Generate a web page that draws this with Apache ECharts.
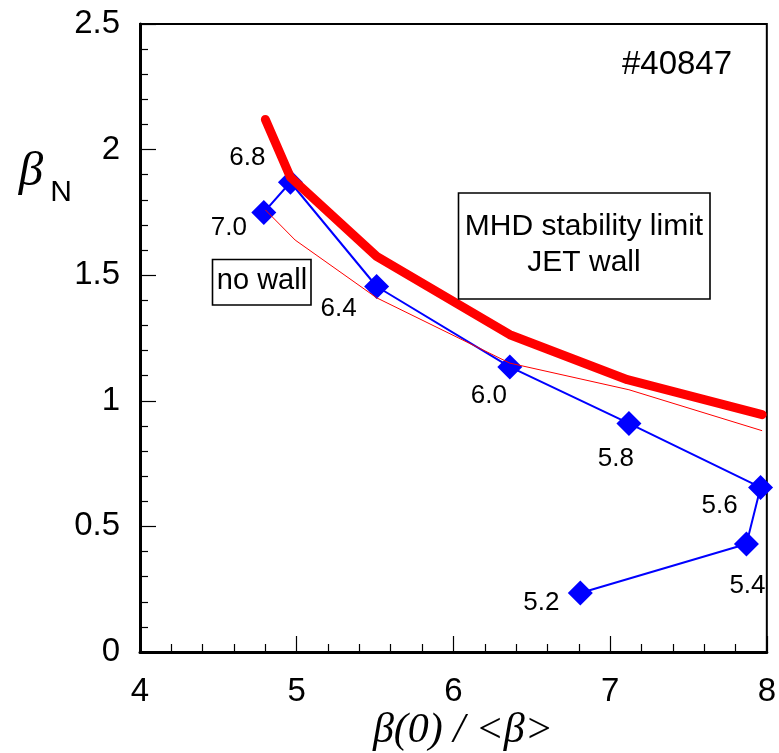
<!DOCTYPE html>
<html>
<head>
<meta charset="utf-8">
<script src="https://cdn.jsdelivr.net/npm/echarts@6/dist/echarts.min.js"></script>
<style>
  html, body { margin: 0; padding: 0; background: #fff; }
  #chart { width: 779px; height: 753px; }
</style>
</head>
<body>
<div id="chart"></div>
<script>
// Peaking-factor scan of shot #40847: beta_N against beta(0)/<beta>
const profileLabels = ['7.0', '6.8', '6.4', '6.0', '5.8', '5.6', '5.4', '5.2'];
const peakingX = [4.79, 4.96, 5.51, 6.36, 7.12, 7.96, 7.87, 6.81];
const betaN = [1.75, 1.87, 1.455, 1.135, 0.91, 0.655, 0.43, 0.235];

// MHD stability limit with the JET wall (thick curve)
const wallX = [4.80, 4.96, 5.51, 6.36, 7.11, 7.97];
const wallY = [2.12, 1.89, 1.575, 1.263, 1.084, 0.945];

// MHD stability limit without a wall (thin curve)
const noWallX = [4.80, 4.99, 5.51, 6.36, 7.12, 7.97];
const noWallY = [1.76, 1.64, 1.41, 1.15, 1.044, 0.881];

const xTicks = { min: 4, max: 8, step: 1 };
const yTicks = { min: 0, max: 2.5, step: 0.5 };

// where each profile label sits relative to its marker (px)
const labelOffsets = [[-35, 15], [-43, -24], [-38, 22], [-21, 29], [-13, 35], [-41, 18], [1, 42], [-39, 10]];

const SANS = '"Liberation Sans", Arial, sans-serif';
const SERIF = '"Liberation Serif", "Times New Roman", serif';

const zip = (xs, ys) => xs.map((x, i) => [x, ys[i]]);

const scanData = peakingX.map((x, i) => ({
  value: [x, betaN[i]],
  label: { offset: labelOffsets[i] }
}));

function axisCommon(extra) {
  return Object.assign({
    type: 'value',
    axisLine: { show: true, onZero: false, lineStyle: { color: '#000', width: 3 } },
    axisTick: { show: true, inside: true, length: 16, lineStyle: { color: '#000', width: 1.2 } },
    minorTick: { show: true, splitNumber: 5, length: 8, lineStyle: { color: '#000', width: 1.2 } },
    splitLine: { show: false },
    minorSplitLine: { show: false }
  }, extra);
}

const chart = echarts.init(document.getElementById('chart'), null, { renderer: 'canvas' });

chart.setOption({
  animation: false,
  backgroundColor: '#fff',
  grid: { left: 140, right: 7, top: 24, bottom: 101, show: true, borderColor: '#000', borderWidth: 2 },
  xAxis: axisCommon({
    min: xTicks.min, max: xTicks.max, interval: xTicks.step,
    axisLabel: { color: '#000', fontSize: 33, fontFamily: SANS, margin: 23 }
  }),
  yAxis: axisCommon({
    min: yTicks.min, max: yTicks.max, interval: yTicks.step,
    axisLabel: { color: '#000', fontSize: 33, fontFamily: SANS, margin: 20 }
  }),
  series: [
    {
      name: 'scan',
      type: 'line',
      data: scanData,
      symbol: 'diamond',
      symbolSize: 25,
      itemStyle: { color: '#0000ff' },
      lineStyle: { color: '#0000ff', width: 2 },
      label: {
        show: true,
        position: 'inside',
        color: '#000',
        fontSize: 26,
        fontFamily: SANS,
        formatter: p => profileLabels[p.dataIndex]
      },
      z: 2
    },
    {
      name: 'no wall',
      type: 'line',
      data: zip(noWallX, noWallY),
      symbol: 'none',
      lineStyle: { color: '#ff0000', width: 1 },
      z: 3
    },
    {
      name: 'JET wall',
      type: 'line',
      data: zip(wallX, wallY),
      symbol: 'none',
      lineStyle: { color: '#ff0000', width: 9, cap: 'round', join: 'round' },
      z: 4
    }
  ],
  graphic: [
    {
      type: 'text', x: 677, y: 65,
      style: { text: '#40847', font: '33px ' + SANS, fill: '#000', align: 'center', verticalAlign: 'middle' }
    },
    {
      type: 'rect', shape: { x: 458.5, y: 193, width: 251.5, height: 106 },
      style: { fill: '#fff', stroke: '#000', lineWidth: 1.6 }, z: 10
    },
    {
      type: 'text', x: 584, y: 227, z: 11,
      style: { text: 'MHD stability limit', font: '30px ' + SANS, fill: '#000', align: 'center', verticalAlign: 'middle' }
    },
    {
      type: 'text', x: 584, y: 263, z: 11,
      style: { text: 'JET wall', font: '30px ' + SANS, fill: '#000', align: 'center', verticalAlign: 'middle' }
    },
    {
      type: 'rect', shape: { x: 212.5, y: 259.5, width: 98.5, height: 45.5 },
      style: { fill: '#fff', stroke: '#000', lineWidth: 1.6 }, z: 10
    },
    {
      type: 'text', x: 262, y: 281, z: 11,
      style: { text: 'no wall', font: '29px ' + SANS, fill: '#000', align: 'center', verticalAlign: 'middle' }
    },
    // y-axis title: beta with subscript N
    {
      type: 'text', x: 31, y: 172,
      style: { text: 'β', font: 'italic 49px ' + SERIF, fill: '#000', align: 'center', verticalAlign: 'middle' }
    },
    {
      type: 'text', x: 61, y: 193,
      style: { text: 'N', font: '30px ' + SANS, fill: '#000', align: 'center', verticalAlign: 'middle' }
    },
    // x-axis title
    {
      type: 'text', x: 463, y: 731,
      style: { text: 'β(0) / <β>', font: 'italic 42px ' + SERIF, fill: '#000', align: 'center', verticalAlign: 'middle' }
    }
  ]
});
</script>
</body>
</html>
